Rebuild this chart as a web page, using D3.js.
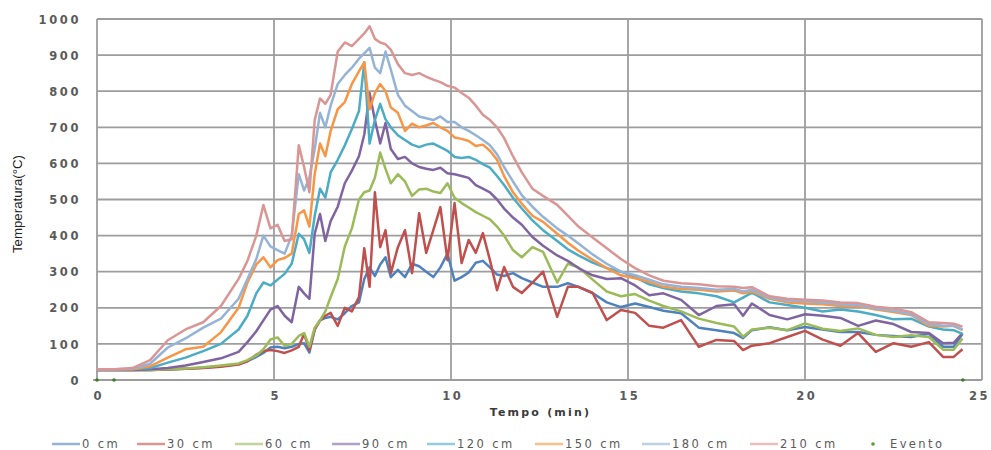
<!DOCTYPE html>
<html><head><meta charset="utf-8">
<script src="https://cdn.jsdelivr.net/npm/d3@7/dist/d3.min.js"></script>
<style>body{margin:0;background:#fff}svg{display:block}</style>
</head><body><svg id="c" width="991" height="450"></svg>
<script>
// ---- data ----
const times = [0,0.5,1,1.5,2,2.5,3,3.5,4,4.25,4.5,4.7,4.9,5.1,5.3,5.5,5.7,5.85,6.0,6.15,6.3,6.45,6.6,6.8,7.0,7.2,7.4,7.55,7.7,7.85,8.0,8.15,8.3,8.5,8.7,8.9,9.1,9.3,9.5,9.7,9.9,10.1,10.3,10.5,10.7,10.9,11.1,11.3,11.5,11.75,12.0,12.3,12.6,13.0,13.3,13.6,14.0,14.4,14.8,15.2,15.6,16.0,16.5,17.0,17.5,18.0,18.25,18.5,19.0,19.5,20.0,20.5,21.0,21.5,22.0,22.5,23.0,23.5,23.9,24.2,24.45];
const cm0   = [28,28,28,28,29,31,34,38,44,52,64,75,90,92,88,92,100,102,76,140,165,172,175,168,185,205,215,280,312,288,320,340,285,305,285,322,315,300,285,312,350,275,285,298,325,330,312,292,288,296,282,270,258,258,268,258,241,215,202,212,202,192,185,145,138,130,116,138,146,138,147,140,133,133,125,122,119,128,92,92,128];
const cm30  = [28,28,28,28,29,31,33,37,43,52,70,80,83,80,75,82,92,128,83,140,165,178,186,150,200,190,230,365,258,520,368,415,296,368,415,296,462,352,415,479,332,490,324,388,352,407,332,249,313,258,241,270,300,175,258,258,241,166,194,186,150,145,166,92,111,108,83,95,102,119,136,112,95,130,78,102,92,105,64,64,85];
const cm60  = [28,28,28,28,30,32,35,40,46,55,68,85,112,118,95,100,122,130,92,145,165,190,230,280,370,420,500,520,525,560,630,585,545,570,550,510,528,530,522,518,545,505,490,478,465,455,445,425,400,360,340,368,355,270,322,312,278,245,232,238,220,205,190,170,158,148,120,140,145,138,157,142,136,143,125,119,124,119,84,84,115];
const cm90  = [28,28,28,30,33,40,50,60,78,105,135,165,195,205,178,160,258,240,225,405,460,385,440,480,545,580,620,680,795,720,655,712,640,612,618,600,590,585,582,588,573,570,565,560,540,530,520,500,475,450,430,396,372,345,330,310,290,280,282,262,235,240,222,180,205,210,178,212,180,168,182,178,172,150,165,155,133,130,102,103,130];
const cm120 = [30,30,30,33,48,62,80,100,140,178,240,270,262,278,294,322,405,390,352,455,530,505,575,610,650,695,745,880,655,720,765,722,700,678,665,652,645,652,655,645,635,618,615,618,610,598,588,565,540,505,475,442,415,385,362,345,325,310,300,285,265,255,245,240,232,215,228,242,215,208,200,190,195,190,180,168,170,148,140,138,128];
const cm150 = [30,30,30,38,62,85,92,132,200,270,320,340,312,332,338,350,460,470,425,570,655,620,690,750,770,820,855,880,750,795,820,800,755,740,690,710,700,705,712,700,690,672,668,662,648,652,635,610,565,520,488,455,438,405,380,358,333,310,290,282,272,258,252,250,245,248,240,245,225,215,212,210,205,205,195,188,180,150,148,150,138];
const cm180 = [30,30,31,45,90,115,145,170,225,280,335,400,370,360,350,400,570,525,560,640,740,700,760,820,845,865,890,905,920,865,850,910,860,790,760,745,730,725,720,730,715,715,700,690,678,665,650,625,590,550,512,480,452,420,400,378,348,322,300,290,278,265,258,255,250,252,245,250,228,220,218,215,210,208,198,192,182,155,150,150,140];
const cm210 = [30,30,33,55,110,140,160,205,280,330,400,485,420,430,385,390,650,590,520,720,780,765,790,910,935,925,945,960,980,945,935,930,915,875,850,845,850,840,832,825,815,810,795,782,760,735,720,700,670,620,575,530,510,485,455,425,395,365,335,310,290,275,268,265,260,258,255,257,232,225,222,220,215,213,203,198,188,160,158,156,148];
const seriesNames = ["0 cm","30 cm","60 cm","90 cm","120 cm","150 cm","180 cm","210 cm"];
const seriesColors = ["#4F81BD","#C0504D","#9BBB59","#8064A2","#4BACC6","#F79646","#95B3D7","#D99694"];
const seriesValues = [cm0,cm30,cm60,cm90,cm120,cm150,cm180,cm210];
const eventoT = [0,0.48,24.46];
const eventoV = [0,0,0];
const xTicks = [0,5,10,15,20,25];
const yTicks = [0,100,200,300,400,500,600,700,800,900,1000];
const xTitle = "Tempo (min)";
const yTitle = "Temperatura(°C)";
const eventoName = "Evento";

// ---- chart ----
const svg = d3.select("#c");
const x = d3.scaleLinear().domain([0,25]).range([97,982]);
const y = d3.scaleLinear().domain([0,1000]).range([380,19]);
const grid = "#9d9d9d";
const FONT = "DejaVu Sans";

// gridlines
svg.append("g").selectAll("line").data(yTicks.filter(d=>d>0)).join("line")
  .attr("x1",x(0)).attr("x2",x(25)).attr("y1",d=>y(d)).attr("y2",d=>y(d))
  .attr("stroke",grid).attr("stroke-width",1.8);
svg.append("g").selectAll("line").data(xTicks.filter(d=>d>0)).join("line")
  .attr("y1",y(0)).attr("y2",y(1000)).attr("x1",d=>x(d)).attr("x2",d=>x(d))
  .attr("stroke",grid).attr("stroke-width",1.8);
svg.append("line").attr("x1",x(0)).attr("x2",x(0)).attr("y1",y(0)).attr("y2",y(1000)).attr("stroke",grid).attr("stroke-width",1.8);
svg.append("line").attr("x1",x(0)-4).attr("x2",x(25)).attr("y1",y(0)).attr("y2",y(0)).attr("stroke",grid).attr("stroke-width",1.8);

// y axis labels
const ya = svg.append("g").attr("transform",`translate(${x(0)},0)`)
  .call(d3.axisLeft(y).tickValues(yTicks).tickFormat(d3.format("d")).tickSize(0).tickPadding(16));
ya.select(".domain").remove();
ya.selectAll("text").attr("dy","0.36em")
  .style("font-family",FONT).style("font-size","11.5px").style("font-weight","700")
  .style("letter-spacing","2.6px").attr("fill","#5a5a5a");

// x axis labels
const xa = svg.append("g").attr("transform",`translate(0,${y(0)})`)
  .call(d3.axisBottom(x).tickValues(xTicks).tickSize(0).tickPadding(12));
xa.select(".domain").remove();
xa.selectAll("text").attr("dx","1.3px")
  .style("font-family",FONT).style("font-size","11.5px").style("font-weight","700")
  .style("letter-spacing","2.6px").attr("fill","#5a5a5a");
xa.selectAll(".tick").filter(d=>d===25).select("text").attr("dx","-3px");

// titles
svg.append("text").attr("text-anchor","middle")
  .attr("x",(x(0)+x(25))/2+1).attr("y",416)
  .style("font-family",FONT).style("font-size","11px").style("font-weight","700")
  .style("letter-spacing","2.2px").attr("fill","#3a3a3a")
  .text(xTitle);
svg.append("text").attr("text-anchor","middle").attr("dominant-baseline","central")
  .attr("transform",`translate(17,204) rotate(-90)`)
  .attr("textLength",98).attr("lengthAdjust","spacingAndGlyphs")
  .style("font-family","Liberation Sans").style("font-size","13px").attr("fill","#202020")
  .text(yTitle);

// lines
const line = d3.line().x(d=>x(d[0])).y(d=>y(d[1]));
seriesValues.forEach((vals,i)=>{
  svg.append("path").datum(times.map((t,j)=>[t,vals[j]]))
    .attr("d",line).attr("fill","none").attr("stroke",seriesColors[i])
    .attr("stroke-width",2.5).attr("stroke-linejoin","round");
});

// evento
svg.append("g").selectAll("circle").data(eventoT.map((t,i)=>[t,eventoV[i]])).join("circle")
  .attr("cx",d=>x(d[0])).attr("cy",d=>y(d[1])).attr("r",1.8).attr("fill","#3f7a2a");

// legend
const legX = [52,137,235,332,427,535,642,750];
const legY = 444;
const lg = svg.append("g");
seriesNames.forEach((n,i)=>{
  lg.append("line").attr("x1",legX[i]).attr("x2",legX[i]+28).attr("y1",legY).attr("y2",legY)
    .attr("stroke",seriesColors[i]).attr("stroke-width",2.5).attr("opacity",0.6);
  lg.append("text").attr("x",legX[i]+30).attr("y",legY).attr("dy","0.36em")
    .style("font-family",FONT).style("font-size","11.5px")
    .style("letter-spacing","2.4px").attr("fill","#5a5a5a").text(n);
});
lg.append("circle").attr("cx",873).attr("cy",legY).attr("r",1.8).attr("fill","#5a9a3a");
lg.append("text").attr("x",890).attr("y",legY).attr("dy","0.36em")
  .style("font-family",FONT).style("font-size","11.5px")
  .style("letter-spacing","2.4px").attr("fill","#5a5a5a").text(eventoName);
</script></body></html>
